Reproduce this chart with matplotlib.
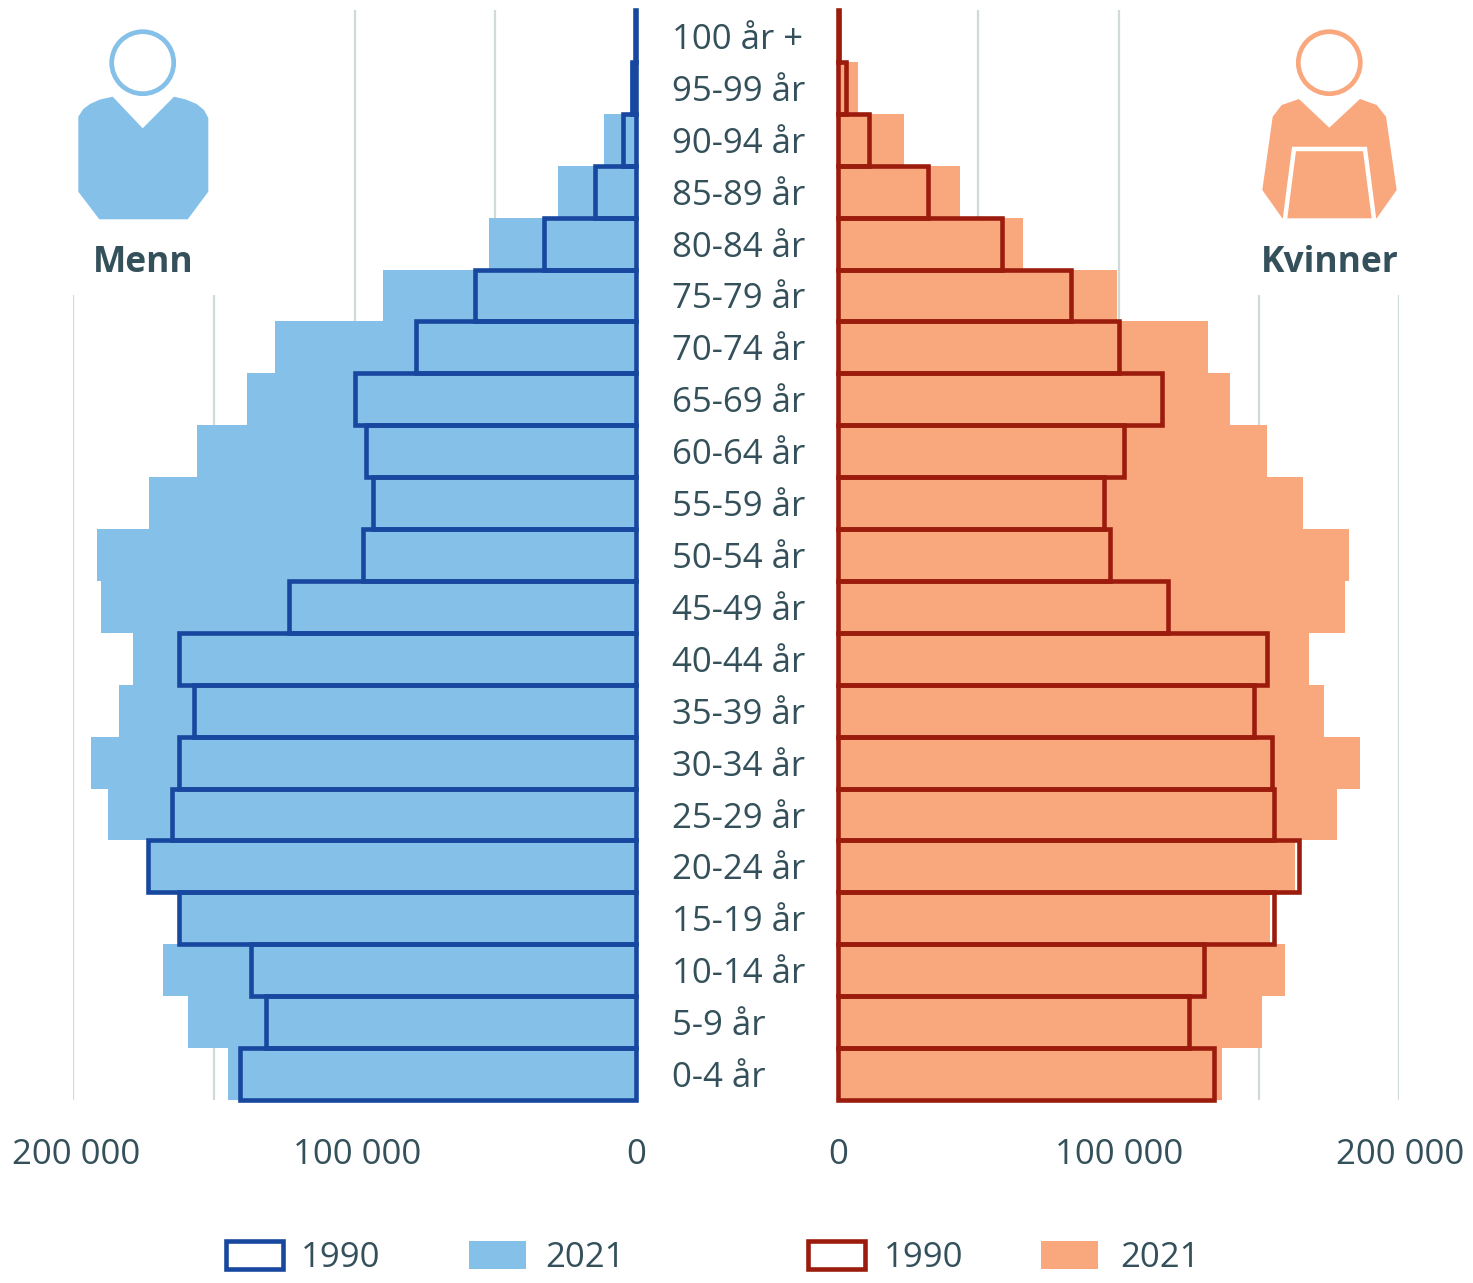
import matplotlib
matplotlib.use("Agg")
import matplotlib.pyplot as plt
from matplotlib.patches import Circle, Polygon, Rectangle
from matplotlib.transforms import ScaledTranslation

plt.rcParams['font.family'] = ['Open Sans', 'DejaVu Sans']

age_groups = ["0-4 år", "5-9 år", "10-14 år", "15-19 år", "20-24 år", "25-29 år", "30-34 år",
              "35-39 år", "40-44 år", "45-49 år", "50-54 år", "55-59 år", "60-64 år", "65-69 år",
              "70-74 år", "75-79 år", "80-84 år", "85-89 år", "90-94 år", "95-99 år", "100 år +"]

men_2021 = [145000, 159200, 168100, 162000, 173400, 187600, 193700, 183700, 178700, 190000, 191500,
            173000, 156000, 138200, 128300, 89900, 52200, 27700, 11400, 2100, 500]
men_1990 = [140700, 131500, 136800, 162400, 173400, 164900, 162400, 157000, 162400, 123300, 97000,
            93500, 96000, 99900, 78200, 57200, 32700, 14600, 4600, 1400, 200]
women_2021 = [136800, 151000, 159200, 153900, 163000, 178000, 186200, 173400, 168000, 180900, 182300,
              165600, 152800, 139700, 131800, 99500, 66100, 43400, 23500, 7100, 1400]
women_1990 = [134000, 125000, 130400, 155600, 164500, 155600, 154600, 148200, 152800, 117600, 97000,
              94900, 102000, 115500, 100200, 83200, 58600, 32000, 11000, 2800, 400]

x_ticks = [0, 100000, 200000]
x_tick_labels = ["0", "100 000", "200 000"]
grid_short = [150000, 200000]   # cut off under the icons
grid_tall = [50000, 100000]

W, H = 1473, 1283
TEXT = "#34505a"
GRID = "#d0dbd8"
MEN_LIGHT, MEN_DARK = "#85c0e8", "#17479e"
WOMEN_LIGHT, WOMEN_DARK = "#f9a87e", "#9b1c0c"


def px_axes(x0, x1, y0, y1):
    return fig.add_axes([x0 / W, 1 - y1 / H, (x1 - x0) / W, (y1 - y0) / H])


fig = plt.figure(figsize=(W / 100, H / 100), dpi=100)
ax_m = px_axes(73, 636, 10, 1100)
ax_w = px_axes(838, 1399, 10, 1100)
rows = list(range(len(age_groups)))

for ax, light, dark, now, then in [(ax_m, MEN_LIGHT, MEN_DARK, men_2021, men_1990),
                                   (ax_w, WOMEN_LIGHT, WOMEN_DARK, women_2021, women_1990)]:
    ax.vlines(grid_tall, -0.5, 20.5, color=GRID, lw=1.6, zorder=1)
    ax.vlines(grid_short, -0.5, 15, color=GRID, lw=1.6, zorder=1)
    ax.barh(rows, now, height=1, color=light, zorder=2)
    ax.barh(rows, then, height=1, facecolor="none", edgecolor=dark, linewidth=3.3,
            zorder=3, clip_on=False)
    ax.set_xlim(0, 200000)
    ax.set_ylim(-0.5, 20.5)
    ax.set_xticks(x_ticks, x_tick_labels)
    ax.tick_params(axis="x", length=0, pad=27, labelsize=25, labelcolor=TEXT)
    for s in ax.spines.values():
        s.set_visible(False)
    ax.patch.set_visible(False)

ax_m.invert_xaxis()
ax_m.yaxis.tick_right()
ax_m.set_yticks(rows, age_groups)
ax_m.tick_params(axis="y", length=0, pad=26, labelsize=25, labelcolor=TEXT)
ax_w.set_yticks([])

# labels sit a little off the gridlines
for ax, tick_shift in [(ax_m, 3), (ax_w, 1)]:
    for lab, v in zip(ax.get_xticklabels(), x_ticks):
        if v:
            lab.set_transform(lab.get_transform() + ScaledTranslation(tick_shift / 100, 0, fig.dpi_scale_trans))

# icons and legend in pixel coordinates
ov = fig.add_axes([0, 0, 1, 1])
ov.set_xlim(0, W)
ov.set_ylim(H, 0)
ov.axis("off")
ov.patch.set_visible(False)

ov.add_patch(Circle((142.7, 62.7), 31, facecolor="white", edgecolor=MEN_LIGHT, lw=3.4))
ov.add_patch(Polygon([(112.7, 96.7), (142.7, 128.3), (174, 96.7), (186, 99.5), (196.7, 104), (204, 110),
                      (208.3, 118), (208.3, 191.7), (187.7, 219.3), (99.3, 219.3), (78.3, 191.7),
                      (78.3, 116.7), (83.3, 109), (90, 104), (100, 99.5)], facecolor=MEN_LIGHT, edgecolor="none"))
ov.text(143, 263, "Menn", ha="center", va="center", fontsize=25.5, fontweight="bold", color=TEXT)

ov.add_patch(Circle((1329.3, 62.7), 31, facecolor="white", edgecolor=WOMEN_LIGHT, lw=3.4))
ov.add_patch(Polygon([(1299, 99), (1329.3, 127.7), (1360, 99), (1376.7, 105), (1386, 116.7),
                      (1396.7, 190), (1376.7, 218.3), (1282.3, 218.3), (1262.3, 190), (1272.7, 116.7),
                      (1281.7, 105)], facecolor=WOMEN_LIGHT, edgecolor="none"))
ov.plot([1285, 1294, 1365, 1374], [219, 149, 149, 219], color="white", lw=3.2, solid_joinstyle="miter")
ov.text(1330, 263, "Kvinner", ha="center", va="center", fontsize=25.5, fontweight="bold", color=TEXT)

ov.add_patch(Rectangle((226, 1241), 57, 28, facecolor="white", edgecolor=MEN_DARK, lw=3.3))
ov.add_patch(Rectangle((469, 1241), 57, 28, facecolor=MEN_LIGHT, edgecolor="none"))
ov.add_patch(Rectangle((808, 1241), 57, 28, facecolor="white", edgecolor=WOMEN_DARK, lw=3.3))
ov.add_patch(Rectangle((1041, 1241), 57, 28, facecolor=WOMEN_LIGHT, edgecolor="none"))
for x, s in [(301, "1990"), (545, "2021"), (884, "1990"), (1120, "2021")]:
    ov.text(x, 1258, s, ha="left", va="center", fontsize=25, color=TEXT)

fig.savefig("out.png", dpi=100)
